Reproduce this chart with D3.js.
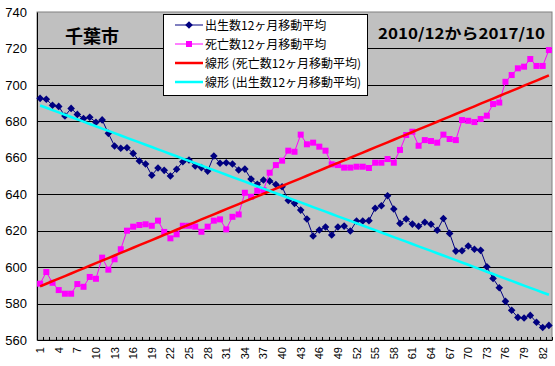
<!DOCTYPE html>
<html>
<head>
<meta charset="utf-8">
<script src="https://cdn.jsdelivr.net/npm/d3@7"></script>
<style>
  body { margin: 0; background: #fff; }
  svg text { font-family: "Liberation Sans", Arial, sans-serif; }
  .jp { font-family: "Noto Sans CJK JP", sans-serif; }
</style>
</head>
<body>
<div class="chart"></div>
<script>
var svgWidth = 555;
var svgHeight = 366;

// plot area edges
var margin = { top: 12, right: 3, bottom: 26, left: 37 };
var width = svgWidth - margin.left - margin.right;
var height = svgHeight - margin.top - margin.bottom;

// month index 1..83 (2010/12 - 2017/10)
var months = d3.range(1, 84);

// 出生数12ヶ月移動平均
var births = [
  692.6, 692.1, 688.8, 688.2, 682.9, 687.1, 683.8, 681.5, 682.2, 679.5,
  680.8, 673.4, 666.5, 665.2, 665.5, 662.4, 658.2, 656.6, 650.4, 654.4,
  653.1, 650.0, 653.7, 657.8, 658.8, 655.5, 654.6, 652.7, 661.0, 657.0,
  657.3, 656.6, 653.3, 653.8, 648.3, 645.5, 647.8, 647.2, 645.3, 644.1,
  636.6, 635.0, 631.3, 626.4, 617.1, 620.4, 622.0, 617.6, 622.0, 622.5,
  619.8, 625.3, 625.3, 625.5, 632.3, 633.7, 639.2, 631.9, 624.0, 626.4,
  623.6, 622.4, 624.6, 623.5, 620.2, 626.7, 618.5, 608.8, 609.0, 611.6,
  609.8, 609.2, 600.2, 593.8, 588.7, 581.2, 576.3, 572.4, 572.1, 573.5,
  569.7, 566.9, 568.0
];

// 死亡数12ヶ月移動平均
var deaths = [
  590.9, 597.3, 591.4, 587.4, 585.4, 585.4, 590.7, 589.2, 594.6, 593.6,
  605.2, 598.6, 604.3, 609.8, 620.0, 622.2, 623.1, 623.5, 622.7, 625.5,
  619.3, 615.8, 618.0, 622.7, 622.7, 622.2, 619.4, 622.2, 625.5, 626.2,
  620.7, 627.6, 628.9, 640.8, 638.6, 641.9, 642.3, 651.8, 656.0, 658.4,
  663.9, 663.3, 672.7, 667.4, 668.3, 666.1, 663.9, 656.4, 656.0, 654.6,
  654.6, 655.1, 655.1, 654.4, 657.3, 657.3, 659.3, 657.3, 664.3, 672.5,
  674.3, 666.6, 669.7, 669.2, 668.3, 672.7, 670.3, 669.7, 680.7, 680.3,
  679.6, 681.3, 683.1, 689.5, 690.3, 701.7, 705.4, 709.1, 710.0, 714.2,
  710.4, 710.4, 719.1
];

var yTicks = [560, 580, 600, 620, 640, 660, 680, 700, 720, 740];
var xTickLabels = months.filter(d => (d - 1) % 3 === 0);

var seriesNames = [
  "出生数12ヶ月移動平均",
  "死亡数12ヶ月移動平均",
  "線形 (死亡数12ヶ月移動平均)",
  "線形 (出生数12ヶ月移動平均)"
];

// least squares linear trend, like the spreadsheet's trendline
function linearFit(xs, ys) {
  var mx = d3.mean(xs), my = d3.mean(ys);
  var sxy = d3.sum(xs, (x, i) => (x - mx) * (ys[i] - my));
  var sxx = d3.sum(xs, x => (x - mx) * (x - mx));
  var b = sxy / sxx;
  var a = my - b * mx;
  return xs.map(x => a + b * x);
}

var svg = d3.select(".chart")
  .append("svg")
  .attr("width", svgWidth)
  .attr("height", svgHeight);

var chartGroup = svg.append("g")
  .attr("transform", `translate(${margin.left}, ${margin.top})`);

var xScale = d3.scaleBand()
  .domain(months)
  .range([0, width]);

var yScale = d3.scaleLinear()
  .domain([560, 740])
  .range([height, 0]);

var cx = d => xScale(d) + xScale.bandwidth() / 2;

// plot background
chartGroup.append("rect")
  .attr("width", width)
  .attr("height", height)
  .attr("fill", "#c0c0c0")
  .attr("stroke", "#808080")
  .attr("stroke-width", 1);

// horizontal grid
chartGroup.selectAll(".grid")
  .data(yTicks.slice(1, -1))
  .enter()
  .append("line")
  .attr("x1", 0)
  .attr("x2", width)
  .attr("y1", d => Math.round(yScale(d)) + 0.5)
  .attr("y2", d => Math.round(yScale(d)) + 0.5)
  .attr("stroke", "#000")
  .attr("stroke-width", 1);

// y axis
var leftAxis = d3.axisLeft(yScale)
  .tickValues(yTicks)
  .tickSize(0)
  .tickPadding(10);

chartGroup.append("g")
  .call(leftAxis)
  .call(g => g.select(".domain").attr("stroke", "#000"))
  .selectAll("text")
  .attr("font-size", "13px")
  .attr("fill", "#000");

// x axis: small ticks at category boundaries
var bottomAxis = d3.axisBottom(xScale).tickSize(0).tickFormat("");
chartGroup.append("g")
  .attr("transform", `translate(0, ${height})`)
  .call(bottomAxis)
  .call(g => g.select(".domain").attr("stroke", "#000"));

chartGroup.append("g")
  .selectAll("line")
  .data(months.concat([84]))
  .enter()
  .append("line")
  .attr("x1", d => Math.round(d === 84 ? width : xScale(d)) + 0.5)
  .attr("x2", d => Math.round(d === 84 ? width : xScale(d)) + 0.5)
  .attr("y1", height - 3)
  .attr("y2", height)
  .attr("stroke", "#000");

chartGroup.append("g")
  .selectAll("text")
  .data(xTickLabels)
  .enter()
  .append("text")
  .attr("transform", d => `translate(${cx(d) + 4}, ${height + 7}) rotate(-90)`)
  .attr("text-anchor", "end")
  .attr("font-size", "11px")
  .attr("fill", "#000")
  .text(d => d);

// series lines
var line = d3.line()
  .x((d, i) => cx(months[i]))
  .y(d => yScale(d));

chartGroup.append("path")
  .datum(births)
  .attr("d", line)
  .attr("fill", "none")
  .attr("stroke", "#000080")
  .attr("stroke-width", 1);

chartGroup.selectAll(".birth")
  .data(births)
  .enter()
  .append("path")
  .attr("d", (d, i) => {
    var x = cx(months[i]), y = yScale(d), r = 3.8;
    return `M${x},${y - r}L${x + r},${y}L${x},${y + r}L${x - r},${y}Z`;
  })
  .attr("fill", "#000080");

chartGroup.append("path")
  .datum(deaths)
  .attr("d", line)
  .attr("fill", "none")
  .attr("stroke", "#ff00ff")
  .attr("stroke-width", 1);

chartGroup.selectAll(".death")
  .data(deaths)
  .enter()
  .append("rect")
  .attr("x", (d, i) => cx(months[i]) - 3)
  .attr("y", d => yScale(d) - 3)
  .attr("width", 6)
  .attr("height", 6)
  .attr("fill", "#ff00ff");

// trend lines
var deathTrend = linearFit(months, deaths);
var birthTrend = linearFit(months, births);

chartGroup.append("path")
  .datum(deathTrend)
  .attr("d", line)
  .attr("fill", "none")
  .attr("stroke", "#ff0000")
  .attr("stroke-width", 2.5);

chartGroup.append("path")
  .datum(birthTrend)
  .attr("d", line)
  .attr("fill", "none")
  .attr("stroke", "#00ffff")
  .attr("stroke-width", 2.5);

// titles
svg.append("text")
  .attr("class", "jp")
  .attr("x", 65)
  .attr("y", 43)
  .attr("font-size", "18px")
  .attr("font-weight", "bold")
  .attr("fill", "#000")
  .text("千葉市");

svg.append("text")
  .attr("class", "jp")
  .attr("x", 378)
  .attr("y", 39)
  .attr("font-size", "15px")
  .attr("font-weight", "bold")
  .attr("textLength", 167)
  .attr("lengthAdjust", "spacingAndGlyphs")
  .attr("fill", "#000")
  .text("2010/12から2017/10");

// legend
var legend = svg.append("g").attr("transform", "translate(163, 14)");

legend.append("rect")
  .attr("x", 0.5)
  .attr("y", 0.5)
  .attr("width", 204)
  .attr("height", 81)
  .attr("fill", "#fff")
  .attr("stroke", "#000");

var legendColors = ["#000080", "#ff00ff", "#ff0000", "#00ffff"];
var legendWidths = [1, 1, 2.5, 2.5];

seriesNames.forEach(function(name, i) {
  var y = 11 + i * 19;
  legend.append("line")
    .attr("x1", 12)
    .attr("x2", 40)
    .attr("y1", y)
    .attr("y2", y)
    .attr("stroke", legendColors[i])
    .attr("stroke-width", legendWidths[i]);
  if (i === 0) {
    legend.append("path")
      .attr("d", `M26,${y - 3.8}L29.8,${y}L26,${y + 3.8}L22.2,${y}Z`)
      .attr("fill", legendColors[i]);
  }
  if (i === 1) {
    legend.append("rect")
      .attr("x", 23).attr("y", y - 3)
      .attr("width", 6).attr("height", 6)
      .attr("fill", legendColors[i]);
  }
  legend.append("text")
    .attr("class", "jp")
    .attr("x", 42)
    .attr("y", y + 4.5)
    .attr("font-size", "12px")
    .attr("fill", "#000")
    .text(name);
});
</script>
</body>
</html>
